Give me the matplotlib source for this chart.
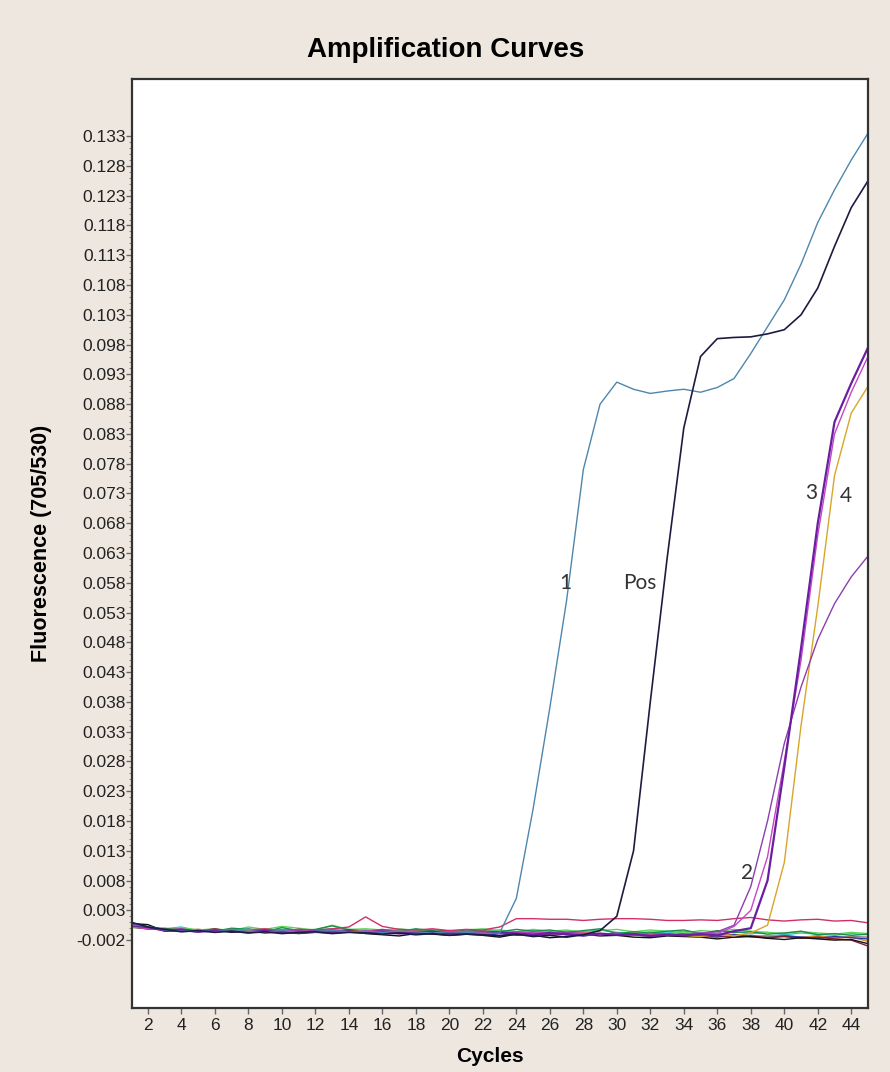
import numpy as np
import matplotlib.pyplot as plt
from matplotlib.ticker import FixedLocator

# cycle numbers
cycles = np.arange(1, 46)

# fluorescence values, in thousandths (x 1e-3)
# amplifying samples
curve_1 = [0.6, 0.3, -0.3, -0.5, -0.4, -0.6, -0.3, -0.5, -0.6, -0.4, -0.7, -0.5, -0.4, -0.6, -0.5,
           -0.7, -0.5, -0.6, -0.8, -0.6, -0.7, -0.9, -0.8, 5.0, 20.0, 37.0, 55.0, 77.0, 88.0, 91.7,
           90.5, 89.8, 90.2, 90.5, 90.0, 90.8, 92.3, 96.5, 101.0, 105.5, 111.5, 118.5, 124.0, 129.0, 133.5]
curve_pos = [1.0, 0.2, -0.2, -0.6, -0.4, -0.7, -0.5, -0.8, -0.6, -0.9, -0.7, -0.6, -0.9, -0.7, -0.8,
             -1.0, -0.8, -1.1, -0.9, -1.2, -1.0, -1.1, -1.3, -1.0, -1.4, -1.2, -1.5, -1.1, -0.4, 2.0,
             13.0, 38.0, 62.0, 84.0, 96.0, 99.0, 99.2, 99.3, 99.8, 100.5, 103.0, 107.5, 114.5, 121.0, 125.5]
curve_2 = [0.4, 0.0, -0.3, -0.1, -0.5, -0.2, -0.4, -0.6, -0.3, -0.5, -0.4, -0.6, -0.3, -0.5, -0.7,
           -0.4, -0.6, -0.5, -0.8, -0.6, -0.7, -0.5, -0.9, -0.6, -0.8, -1.0, -0.7, -0.9, -1.1, -0.8,
           -1.2, -0.9, -1.0, -1.1, -0.9, -0.6, 0.5, 7.0, 18.0, 31.0, 40.5, 48.5, 54.5, 59.0, 62.5]
curve_3 = [0.5, 0.2, -0.4, -0.3, -0.6, -0.4, -0.5, -0.7, -0.4, -0.6, -0.8, -0.5, -0.7, -0.6, -0.8,
           -0.6, -0.9, -0.7, -0.6, -0.9, -0.8, -1.0, -0.7, -0.9, -1.1, -0.8, -1.0, -1.2, -0.9, -1.1,
           -1.0, -1.3, -1.1, -1.2, -1.0, -1.2, -0.5, 0.0, 8.0, 27.0, 47.0, 68.0, 85.0, 91.5, 97.5]
curve_3b = [0.3, -0.1, -0.2, -0.5, -0.3, -0.5, -0.2, -0.6, -0.4, -0.3, -0.6, -0.4, -0.5, -0.7, -0.4,
            -0.6, -0.5, -0.8, -0.6, -0.7, -0.5, -0.8, -0.9, -0.7, -0.9, -0.6, -1.0, -0.8, -1.1, -0.9,
            -1.1, -0.9, -1.2, -1.0, -0.8, -0.9, 0.3, 3.0, 12.0, 28.0, 45.0, 66.0, 83.0, 90.0, 96.0]
curve_4 = [0.2, 0.1, -0.3, -0.4, -0.2, -0.5, -0.4, -0.3, -0.6, -0.5, -0.4, -0.7, -0.5, -0.6, -0.4,
           -0.7, -0.6, -0.5, -0.8, -0.7, -0.6, -0.9, -0.7, -0.8, -1.0, -0.8, -0.9, -1.2, -1.0, -0.9,
           -1.1, -1.3, -1.0, -1.2, -1.4, -1.1, -1.3, -0.8, 0.5, 11.0, 34.0, 54.0, 76.0, 86.5, 91.0]

# negative samples (baseline)
neg_black = [0.8, 0.6, -0.5, -0.4, -0.6, -0.3, -0.7, -0.5, -0.8, -0.6, -0.9, -0.7, -0.8, -0.5, -0.9,
             -1.1, -1.3, -0.9, -1.0, -1.2, -1.0, -1.2, -1.5, -1.0, -1.2, -1.6, -1.4, -1.0, -1.3, -1.2,
             -1.5, -1.6, -1.3, -1.4, -1.5, -1.8, -1.5, -1.4, -1.7, -1.9, -1.6, -1.8, -2.0, -1.9, -2.6]
neg_maroon = [0.3, 0.0, -0.2, -0.3, -0.5, -0.1, -0.6, -0.2, -0.3, -0.5, -0.2, -0.4, -0.6, -0.3, -0.5,
              -0.4, -0.7, -0.5, -0.6, -0.4, -0.7, -0.8, -0.6, -1.2, -1.0, -0.8, -1.1, -0.9, -1.2, -1.0,
              -0.9, -1.3, -1.1, -1.0, -1.4, -1.2, -1.5, -1.3, -1.6, -1.4, -1.7, -1.5, -1.8, -2.0, -3.0]
neg_green = [0.2, -0.1, 0.0, -0.4, -0.3, -0.5, 0.0, -0.2, -0.6, 0.1, -0.4, -0.2, 0.4, -0.3, -0.5,
             -0.2, -0.6, -0.1, -0.4, -0.8, -0.3, -0.5, -0.6, -0.2, -0.5, -0.3, -0.7, -0.4, -0.1, -0.9,
             -0.6, -0.8, -0.5, -0.3, -0.9, -0.4, -0.7, -0.6, -1.0, -0.8, -0.5, -1.1, -0.9, -1.2, -1.0]
neg_cyan = [0.4, -0.2, -0.1, 0.2, -0.5, -0.3, -0.4, -0.1, -0.6, -0.2, -0.5, -0.3, -0.1, -0.2, -0.4,
            -0.5, -0.3, -0.2, -0.6, -0.4, -0.7, -0.5, -0.3, -0.6, -0.4, -0.8, -0.5, -0.6, -0.3, -0.7,
            -0.9, -0.6, -0.8, -0.5, -0.7, -1.0, -0.6, -0.9, -0.7, -1.1, -0.8, -1.0, -1.2, -0.9, -1.1]
neg_blue = [0.5, 0.1, -0.3, -0.2, -0.4, -0.6, -0.3, -0.5, -0.7, -0.4, -0.6, -0.5, -0.8, -0.6, -0.5,
            -0.8, -0.6, -0.9, -0.7, -0.5, -0.9, -0.8, -1.2, -0.9, -1.1, -0.8, -1.0, -1.3, -1.0, -1.2,
            -1.1, -1.4, -1.2, -1.0, -1.3, -1.5, -1.1, -1.4, -1.6, -1.3, -1.5, -1.7, -1.4, -1.6, -1.8]
neg_lime = [0.1, 0.0, -0.2, 0.1, -0.3, -0.1, -0.4, 0.2, -0.2, 0.3, 0.0, -0.3, 0.5, -0.2, -0.1,
            -0.3, -0.1, -0.4, -0.2, -0.5, -0.3, -0.1, -0.4, -0.6, -0.2, -0.5, -0.3, -0.7, -0.4, -0.2,
            -0.6, -0.3, -0.5, -0.8, -0.4, -0.6, -0.2, -0.5, -0.7, -0.9, -0.6, -0.8, -1.0, -0.7, -0.9]
neg_gray = [0.6, 0.2, -0.1, -0.3, -0.2, -0.4, -0.2, -0.5, -0.3, -0.6, -0.4, -0.5, -0.3, -0.6, -0.7,
            -0.5, -0.8, -0.6, -0.7, -0.9, -0.6, -0.8, -0.7, -1.0, -0.8, -1.1, -0.9, -0.8, -1.0, -1.2,
            -1.0, -1.1, -0.9, -1.2, -1.0, -1.3, -1.1, -1.2, -1.4, -1.2, -1.5, -1.3, -1.6, -1.4, -1.5]
neg_orange = [0.3, 0.1, -0.4, -0.2, -0.5, -0.3, -0.6, -0.4, -0.2, -0.5, -0.7, -0.4, -0.6, -0.5, -0.3,
              -0.6, -0.4, -0.7, -0.5, -0.8, -0.6, -0.4, -0.7, -0.9, -0.6, -0.8, -1.0, -0.7, -0.9, -1.1,
              -0.8, -1.0, -1.2, -0.9, -1.1, -1.3, -1.0, -1.5, -1.2, -1.4, -1.6, -1.3, -1.7, -1.5, -2.2]
neg_crimson = [0.2, -0.1, -0.3, -0.2, -0.4, -0.2, -0.5, -0.3, -0.1, -0.4, -0.2, -0.3, -0.1, 0.2, 1.9,
               0.3, -0.2, -0.3, -0.1, -0.4, -0.2, -0.3, 0.2, 1.6, 1.6, 1.5, 1.5, 1.3, 1.5, 1.6,
               1.6, 1.5, 1.3, 1.3, 1.4, 1.3, 1.6, 1.8, 1.4, 1.2, 1.4, 1.5, 1.2, 1.3, 0.9]

negatives = [
    (neg_cyan, '#22c6d2'), (neg_lime, '#5ad85a'), (neg_gray, '#808080'),
    (neg_orange, '#e08a2a'), (neg_green, '#1e8c4a'), (neg_blue, '#2a36a8'),
    (neg_maroon, '#8a1c2c'), (neg_black, '#111111'), (neg_crimson, '#d0306a'),
]
positives = [
    (curve_4, '#d8a528', 1.0), (curve_2, '#8b3fb0', 1.0), (curve_3b, '#c645c8', 1.0),
    (curve_3, '#6a1fa0', 1.6), (curve_1, '#4f86ad', 1.0), (curve_pos, '#1c1c40', 1.2),
]

# curve labels: text, cycle, fluorescence (x 1e-3)
label_text = ['1', 'Pos', '2', '3', '4']
label_x = [26.9, 31.4, 37.8, 41.6, 43.7]
label_y = [58.0, 58.0, 9.3, 73.0, 72.5]

bg = '#EEE7DF'
fig = plt.figure(figsize=(8.9, 10.72), dpi=100, facecolor=bg)
ax = fig.add_axes([132/890, 1 - 1008/1072, 736/890, 929/1072])

for vals, col in negatives:
    ax.plot(cycles, np.array(vals) / 1000, color=col, lw=1.0)
for vals, col, w in positives:
    ax.plot(cycles, np.array(vals) / 1000, color=col, lw=w)

for t, x, y in zip(label_text, label_x, label_y):
    ax.text(x, y / 1000, t, fontsize=15, family='Lato', color='#333333',
            ha='center', va='center')

ax.set_xlim(1.05, 45)
ax.set_ylim(-0.0134, 0.1426)

yt = np.arange(-2, 134, 5) / 1000
ax.set_yticks(yt)
ax.set_yticklabels(['%.3f' % v for v in yt])
ax.yaxis.set_minor_locator(FixedLocator(np.arange(-2, 134, 1) / 1000))
ax.set_xticks(np.arange(2, 45, 2))

ax.tick_params(axis='both', which='major', length=4, width=1, color='#666666',
               labelsize=12.5, labelcolor='#222222')
ax.tick_params(axis='y', which='major', pad=0.5)
ax.tick_params(axis='y', which='minor', length=2.5, width=0.8, color='#888888')
for lab in ax.get_xticklabels() + ax.get_yticklabels():
    lab.set_family(['Liberation Sans', 'DejaVu Sans'])

for s in ax.spines.values():
    s.set_linewidth(1.6)
    s.set_color('#333333')

fig.text(446/890, 1 - 50/1072, 'Amplification Curves', ha='center', va='center',
         fontsize=20, fontweight='bold', family=['Liberation Sans', 'DejaVu Sans'])
fig.text(42/890, 1 - 543/1072, 'Fluorescence (705/530)', rotation=90, ha='center', va='center',
         fontsize=15.5, fontweight='bold', family=['Liberation Sans', 'DejaVu Sans'])
fig.text(490/890, 1 - 1057/1072, 'Cycles', ha='center', va='center',
         fontsize=15, fontweight='bold', family=['Liberation Sans', 'DejaVu Sans'])

fig.savefig('out.png', dpi=100, facecolor=bg)
